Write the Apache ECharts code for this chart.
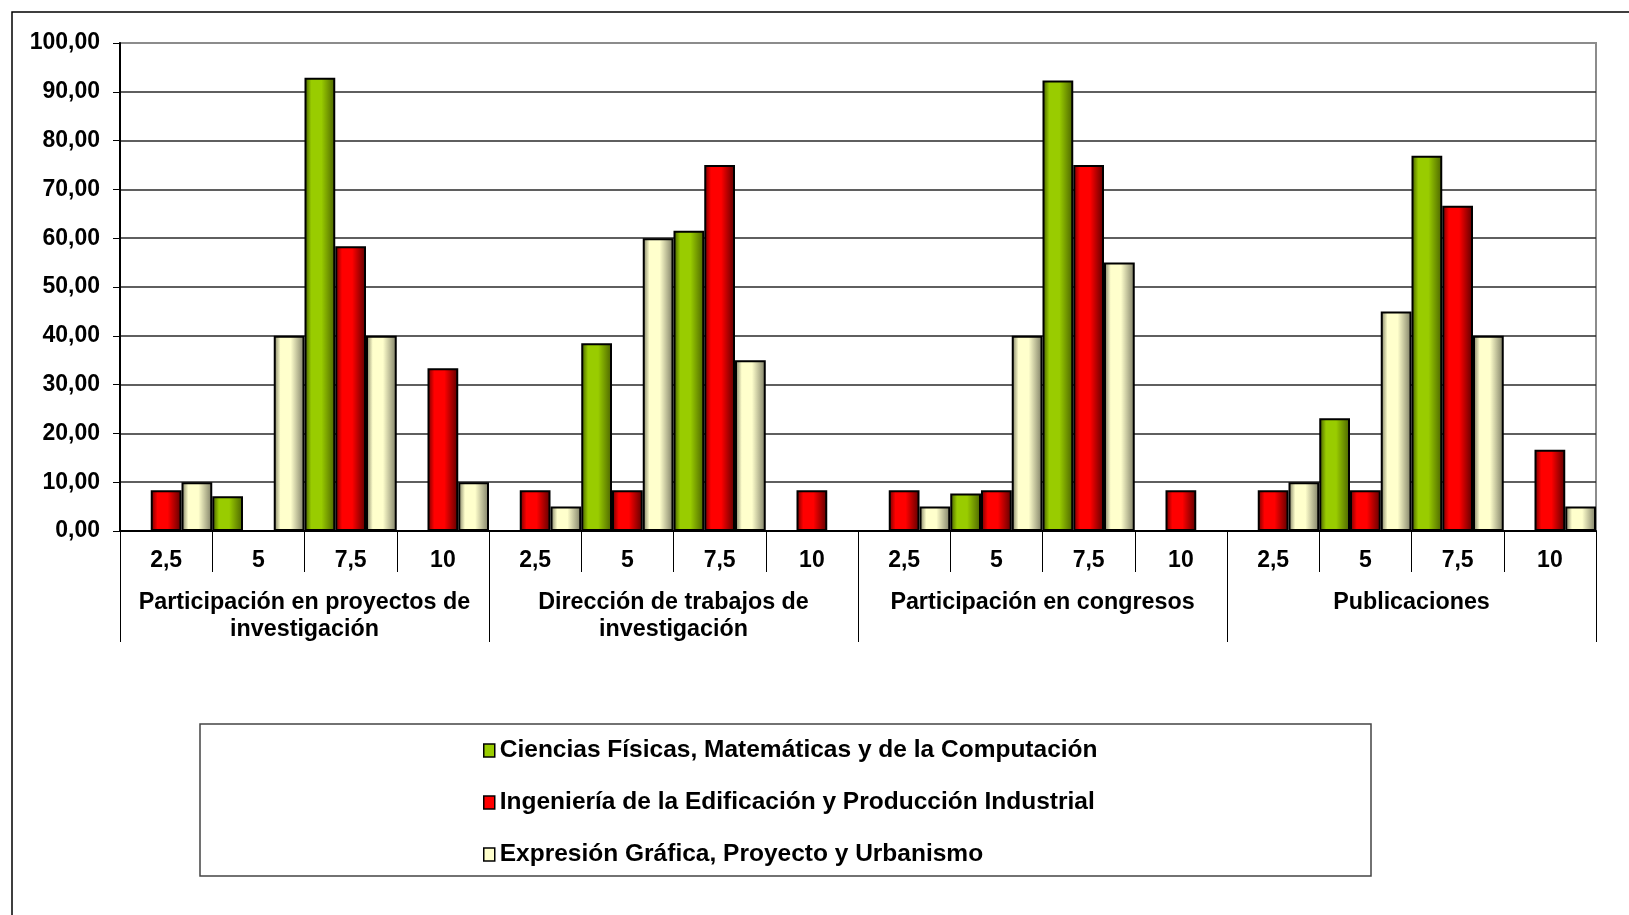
<!DOCTYPE html>
<html>
<head>
<meta charset="utf-8">
<script src="https://cdn.jsdelivr.net/npm/echarts@6/dist/echarts.min.js"></script>
<style>
html,body{margin:0;padding:0;background:#fff;}
#chart{width:1629px;height:915px;}
</style>
</head>
<body>
<div id="chart"></div>
<script>
// ---- data ----
const groups = ['Participación en proyectos de\ninvestigación', 'Dirección de trabajos de\ninvestigación', 'Participación en congresos', 'Publicaciones'];
const subCategories = ['2,5', '5', '7,5', '10'];
const seriesNames = ['Ciencias Físicas, Matemáticas y de la Computación', 'Ingeniería de la Edificación y Producción Industrial', 'Expresión Gráfica, Proyecto y Urbanismo'];
const ciencias = [0, 7.14, 92.86, 0, 0, 38.46, 61.54, 0, 0, 7.69, 92.31, 0, 0, 23.08, 76.92, 0];
const ingenieria = [8.33, 0, 58.33, 33.33, 8.33, 8.33, 75.0, 8.33, 8.33, 8.33, 75.0, 8.33, 8.33, 8.33, 66.67, 16.67];
const expresion = [10, 40, 40, 10, 5, 60, 35, 0, 5, 40, 55, 0, 10, 45, 40, 5];
const yTicks = [0, 10, 20, 30, 40, 50, 60, 70, 80, 90, 100];

const categories = [];
groups.forEach(() => subCategories.forEach(s => categories.push(s)));

function grad(dark1, bright, dark2) {
  return {type: 'linear', x: 0, y: 0, x2: 1, y2: 0,
    colorStops: [{offset: 0, color: dark1}, {offset: 0.22, color: bright}, {offset: 0.55, color: bright}, {offset: 1, color: dark2}]};
}
const fills = [grad('#3f5500', '#99cc00', '#4a6200'), grad('#6a0000', '#ff0000', '#5a0000'), grad('#77775c', '#ffffcc', '#7c7c64')];
const flat = ['#99cc00', '#ff0000', '#ffffcc'];
const values = [ciencias, ingenieria, expresion];

const FONT = '"Liberation Sans", Arial, sans-serif';
const chart = echarts.init(document.getElementById('chart'), null, {renderer: 'canvas'});
const splitColors = yTicks.map((v, i) => i === yTicks.length - 1 ? '#8c8c8c' : '#2a2a2a');

chart.setOption({
  animation: false,
  backgroundColor: '#fff',
  graphic: [
    {type: 'rect', shape: {x: 12, y: 12, width: 1700, height: 1000}, style: {fill: 'none', stroke: '#000', lineWidth: 1.5}, z: -1},
    {type: 'rect', shape: {x: 200, y: 724, width: 1171, height: 152}, style: {fill: 'none', stroke: '#444', lineWidth: 1.5}, z: -1}
  ],
  grid: {left: 120, right: 33, top: 43, bottom: 384, show: true, borderColor: '#8c8c8c', borderWidth: 2, containLabel: false},
  legend: {
    orient: 'vertical', left: 478, top: 732, itemWidth: 11, itemHeight: 13, itemGap: 25,
    textStyle: {fontFamily: FONT, fontWeight: 'bold', fontSize: 24.5, color: '#000', lineHeight: 27},
    data: seriesNames.map((n, i) => ({name: n, icon: 'rect', itemStyle: {color: flat[i], borderColor: '#000', borderWidth: 1.5}}))
  },
  xAxis: [
    {
      type: 'category', data: categories, position: 'bottom',
      axisLine: {show: true, lineStyle: {color: '#000', width: 2}},
      axisTick: {show: true, interval: 0, length: 41, lineStyle: {color: '#000', width: 1}},
      axisLabel: {interval: 0, margin: 18, fontFamily: FONT, fontWeight: 'bold', fontSize: 23, color: '#000', lineHeight: 24},
      splitLine: {show: false}
    },
    {
      type: 'category', data: groups, position: 'bottom', offset: 0,
      axisLine: {show: false},
      axisTick: {show: true, interval: 0, length: 111, lineStyle: {color: '#000', width: 1}},
      axisLabel: {interval: 0, margin: 58, fontFamily: FONT, fontWeight: 'bold', fontSize: 23.3, color: '#000', lineHeight: 27, align: 'center'},
      splitLine: {show: false}
    }
  ],
  yAxis: {
    type: 'value', min: 0, max: 100, interval: 10,
    axisLine: {show: true, lineStyle: {color: '#000', width: 2}},
    axisTick: {show: true, length: 7, lineStyle: {color: '#000', width: 1}},
    axisLabel: {margin: 20, fontFamily: FONT, fontWeight: 'bold', fontSize: 23, color: '#000',
      formatter: v => v.toFixed(2).replace('.', ',')},
    splitLine: {show: true, lineStyle: {color: splitColors, width: 1.5}}
  },
  series: values.map((vals, i) => ({
    name: seriesNames[i], type: 'bar', xAxisIndex: 0, data: vals,
    barGap: '0%', barCategoryGap: '0%',
    itemStyle: {color: fills[i], borderColor: '#000', borderWidth: 2}
  }))
});
</script>
</body>
</html>
